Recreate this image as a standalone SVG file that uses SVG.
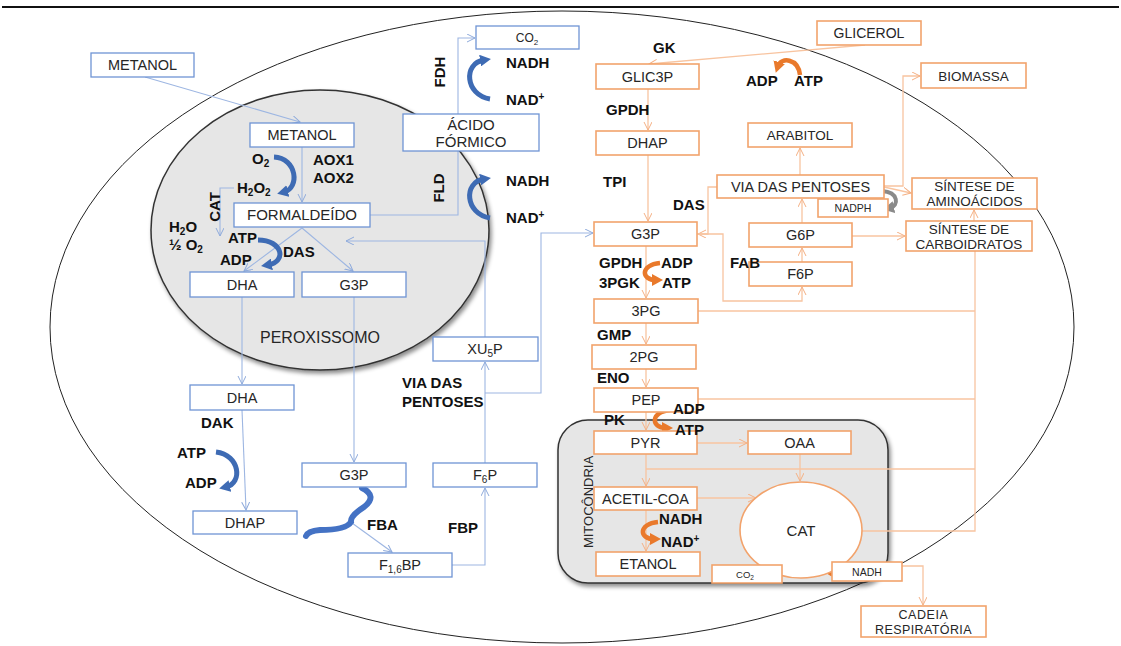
<svg xmlns="http://www.w3.org/2000/svg" width="1121" height="646" viewBox="0 0 1121 646">
<style>
.nb rect{fill:#fff;stroke:#6f94d4;stroke-width:1.3}
.no rect,.no ellipse{fill:#fff;stroke:#f2a36c;stroke-width:1.6}
.t{font-family:"Liberation Sans",Arial,sans-serif;font-size:14.5px;fill:#262626;text-anchor:middle}
.lb{font-family:"Liberation Sans",Arial,sans-serif;font-weight:bold;font-size:15px;fill:#111}
.eb{fill:none;stroke:#9db6e2;stroke-width:1.1}
.eo{fill:none;stroke:#f8c4a0;stroke-width:1.3}
.tkb{fill:none;stroke:#3e6bb4;stroke-width:5}
.tko{fill:none;stroke:#e9792b;stroke-width:4.5}
</style>
<defs>
<marker id="ab" markerUnits="userSpaceOnUse" markerWidth="10" markerHeight="10" refX="8" refY="4" orient="auto"><path d="M0,0 L8,4 L0,8" fill="none" stroke="#8eaadb" stroke-width="1"/></marker>
<marker id="ao" markerUnits="userSpaceOnUse" markerWidth="10" markerHeight="10" refX="8" refY="4" orient="auto"><path d="M0,0 L8,4 L0,8" fill="none" stroke="#f4b084" stroke-width="1"/></marker>
<marker id="tb" markerUnits="userSpaceOnUse" markerWidth="12" markerHeight="12" refX="4" refY="6" orient="auto"><path d="M0,0 L11,6 L0,12 z" fill="#3e6bb4"/></marker>
<marker id="to" markerUnits="userSpaceOnUse" markerWidth="12" markerHeight="12" refX="4" refY="6" orient="auto"><path d="M0,0 L11,6 L0,12 z" fill="#e9792b"/></marker>
<marker id="tg" markerUnits="userSpaceOnUse" markerWidth="12" markerHeight="12" refX="4" refY="6" orient="auto"><path d="M0,0 L11,6 L0,12 z" fill="#8a8a8a"/></marker>
<filter id="sh" x="-10%" y="-10%" width="125%" height="125%"><feDropShadow dx="2" dy="3" stdDeviation="2" flood-color="#000" flood-opacity="0.45"/></filter>
</defs>
<line x1="2" y1="7" x2="1119" y2="7" stroke="#111" stroke-width="2"/>
<ellipse id="cell" cx="562" cy="327" rx="512" ry="316" fill="none" stroke="#222" stroke-width="1"/>
<ellipse id="peroxissomo" cx="320" cy="230" rx="169" ry="140" fill="#e6e6e6" stroke="#333" stroke-width="1.5" filter="url(#sh)"/>
<rect id="mitocondria" x="558" y="420" width="330" height="163" rx="30" fill="#e6e6e6" stroke="#333" stroke-width="1.5" filter="url(#sh)"/>
<text class="t" x="320" y="343" style="font-size:16px">PEROXISSOMO</text>
<text class="t" transform="translate(593,502) rotate(-90)" style="font-size:13px">MITOCÔNDRIA</text>

<g id="connectors">
<path class="eb" d="M145,77 L300,122" marker-end="url(#ab)"/>
<path class="eb" d="M302,147 V202" marker-end="url(#ab)"/>
<path class="eb" d="M302,228 L244,271" marker-end="url(#ab)"/>
<path class="eb" d="M302,228 L353,271" marker-end="url(#ab)"/>
<path class="eb" d="M242,297 V384" marker-end="url(#ab)"/>
<path class="eb" d="M354,297 V462" marker-end="url(#ab)"/>
<path class="eb" d="M242,410 L246,510" marker-end="url(#ab)"/>
<path class="eb" d="M352,523 L392,552" marker-end="url(#ab)"/>
<path class="eb" d="M452,565 H485 V488" marker-end="url(#ab)"/>
<path class="eb" d="M485,463 V362" marker-end="url(#ab)"/>
<path class="eb" d="M485,337 V241 H346" marker-end="url(#ab)"/>
<path class="eb" d="M485,393 H541 V233 H593" marker-end="url(#ab)"/>
<path class="eb" d="M369,215 H458 V38 H475" marker-end="url(#ab)"/>
<path class="eb" d="M234,188 H220 V236" marker-end="url(#ab)"/>

<path class="eo" d="M865,45 L649,64" marker-end="url(#ao)"/>
<path class="eo" d="M648,89 V130" marker-end="url(#ao)"/>
<path class="eo" d="M648,155 V221" marker-end="url(#ao)"/>
<path class="eo" d="M646,246 V298" marker-end="url(#ao)"/>
<path class="eo" d="M646,323 V344" marker-end="url(#ao)"/>
<path class="eo" d="M646,369 V387" marker-end="url(#ao)"/>
<path class="eo" d="M646,412 V430" marker-end="url(#ao)"/>
<path class="eo" d="M646,454 V486" marker-end="url(#ao)"/>
<path class="eo" d="M646,510 V551" marker-end="url(#ao)"/>
<path class="eo" d="M697,443 H747" marker-end="url(#ao)"/>
<path class="eo" d="M800,454 V481" marker-end="url(#ao)"/>
<path class="eo" d="M697,498 H756" marker-end="url(#ao)"/>
<path class="eo" d="M646,469 H975"/>
<path class="eo" d="M975,251 V531 H862"/>
<path class="eo" d="M698,311 H975"/>
<path class="eo" d="M698,399 H975"/>
<path class="eo" d="M974,221 V210" marker-end="url(#ao)"/>
<path class="eo" d="M852,236 H905" marker-end="url(#ao)"/>
<path class="eo" d="M884,187 L911,193" marker-end="url(#ao)"/>
<path class="eo" d="M884,186 H903 V76 H920" marker-end="url(#ao)"/>
<path class="eo" d="M802,223 V199" marker-end="url(#ao)"/>
<path class="eo" d="M802,262 V248" marker-end="url(#ao)"/>
<path class="eo" d="M800,175 V148" marker-end="url(#ao)"/>
<path class="eo" d="M717,187 H708 V234 H698" marker-end="url(#ao)"/>
<path class="eo" d="M697,234 H723 V301 H802 V287" marker-end="url(#ao)"/>
<path class="eo" d="M902,566 H923 V605" marker-end="url(#ao)"/>

<path class="tkb" d="M490,99 C465,95 463,63 484,60" marker-end="url(#tb)"/>
<path class="tkb" d="M490,218 C465,214 463,182 484,179" marker-end="url(#tb)"/>
<path class="tkb" d="M274,157 C297,158 300,188 284,192" marker-end="url(#tb)"/>
<path class="tkb" d="M258,240 C283,240 287,262 268,265" marker-end="url(#tb)"/>
<path class="tkb" d="M216,452 C240,455 243,483 226,487" marker-end="url(#tb)"/>
<path d="M362,488 Q378,496 364,507 Q350,516 351,522 Q346,530 320,530 Q308,531 306,536" fill="none" stroke="#4472c4" stroke-width="6" stroke-linecap="round"/>

<path class="tko" d="M800,75 C798,58 781,57 778,66" marker-end="url(#to)"/>
<path class="tko" d="M660,263 C640,265 641,280 656,280" marker-end="url(#to)"/>
<path class="tko" d="M670,410 C650,412 651,428 666,428" marker-end="url(#to)"/>
<path class="tko" d="M658,522 C638,524 639,539 654,539" marker-end="url(#to)"/>
<path class="tko" d="M761,557 C785,560 784,573 770,574" marker-end="url(#to)"/>
<path class="tko" d="M842,557 C822,560 823,574 836,575" marker-end="url(#to)"/>
<path d="M882,191 C899,192 899,206 890,208" fill="none" stroke="#8a8a8a" stroke-width="4" marker-end="url(#tg)"/>
</g>

<g id="n-metanol-ext" class="nb"><rect x="91" y="53" width="103" height="24"/><text class="t" x="142.5" y="70">METANOL</text></g>
<g id="n-metanol" class="nb"><rect x="250" y="123" width="104" height="24"/><text class="t" x="302" y="140">METANOL</text></g>
<g id="n-formaldeido" class="nb"><rect x="234" y="203" width="136" height="24"/><text class="t" x="302" y="220" style="font-size:15px">FORMALDEÍDO</text></g>
<g id="n-dha-in" class="nb"><rect x="190" y="272" width="104" height="25"/><text class="t" x="242" y="290">DHA</text></g>
<g id="n-g3p-in" class="nb"><rect x="302" y="272" width="104" height="25"/><text class="t" x="354" y="290">G3P</text></g>
<g id="n-acido" class="nb"><rect x="403" y="114" width="136" height="37"/><text class="t" x="471" y="130" style="font-size:15px">ÁCIDO</text><text class="t" x="471" y="147" style="font-size:15px">FÓRMICO</text></g>
<g id="n-co2" class="nb"><rect x="476" y="26" width="103" height="23"/><text class="t" x="527" y="42" style="font-size:12px">CO<tspan dy="3" style="font-size:8px">2</tspan></text></g>
<g id="n-xu5p" class="nb"><rect x="433" y="337" width="105" height="24"/><text class="t" x="485" y="354">XU<tspan dy="3" style="font-size:10px">5</tspan><tspan dy="-3">P</tspan></text></g>
<g id="n-dha-out" class="nb"><rect x="190" y="385" width="104" height="25"/><text class="t" x="242" y="403">DHA</text></g>
<g id="n-dhap-out" class="nb"><rect x="193" y="511" width="104" height="23"/><text class="t" x="245" y="528">DHAP</text></g>
<g id="n-g3p-out" class="nb"><rect x="302" y="463" width="104" height="24"/><text class="t" x="354" y="480">G3P</text></g>
<g id="n-f6p-b" class="nb"><rect x="433" y="463" width="104" height="24"/><text class="t" x="485" y="480">F<tspan dy="3" style="font-size:10px">6</tspan><tspan dy="-3">P</tspan></text></g>
<g id="n-f16bp" class="nb"><rect x="348" y="553" width="104" height="24"/><text class="t" x="400" y="570">F<tspan dy="3" style="font-size:10px">1,6</tspan><tspan dy="-3">BP</tspan></text></g>

<g id="n-glicerol" class="no"><rect x="817" y="21" width="104" height="24"/><text class="t" x="869" y="38" style="font-size:14px">GLICEROL</text></g>
<g id="n-glic3p" class="no"><rect x="596" y="64" width="103" height="25"/><text class="t" x="647.5" y="82">GLIC3P</text></g>
<g id="n-dhap" class="no"><rect x="596" y="131" width="103" height="24"/><text class="t" x="647.5" y="148">DHAP</text></g>
<g id="n-g3p" class="no"><rect x="594" y="222" width="103" height="24"/><text class="t" x="645.5" y="239">G3P</text></g>
<g id="n-arabitol" class="no"><rect x="748" y="123" width="104" height="24"/><text class="t" x="800" y="140" style="font-size:13.5px">ARABITOL</text></g>
<g id="n-pentoses" class="no"><rect x="717" y="175" width="167" height="23"/><text class="t" x="800.5" y="192">VIA DAS PENTOSES</text></g>
<g id="n-nadph" class="no"><rect x="818" y="199" width="70" height="18"/><text class="t" x="853" y="212" style="font-size:10.5px">NADPH</text></g>
<g id="n-g6p" class="no"><rect x="749" y="223" width="103" height="24"/><text class="t" x="800.5" y="240">G6P</text></g>
<g id="n-f6p" class="no"><rect x="749" y="262" width="103" height="24"/><text class="t" x="800.5" y="279">F6P</text></g>
<g id="n-biomassa" class="no"><rect x="921" y="63" width="105" height="25"/><text class="t" x="973.5" y="81" style="font-size:13.5px">BIOMASSA</text></g>
<g id="n-aminoacidos" class="no"><rect x="912" y="178" width="125" height="31"/><text class="t" x="974.5" y="191" style="font-size:13.5px">SÍNTESE DE</text><text class="t" x="974.5" y="206" style="font-size:13.5px">AMINOÁCIDOS</text></g>
<g id="n-carboidratos" class="no"><rect x="906" y="221" width="126" height="30"/><text class="t" x="969" y="234" style="font-size:13.5px">SÍNTESE DE</text><text class="t" x="969" y="249" style="font-size:13.5px">CARBOIDRATOS</text></g>
<g id="n-3pg" class="no"><rect x="594" y="299" width="104" height="24"/><text class="t" x="646" y="316">3PG</text></g>
<g id="n-2pg" class="no"><rect x="592" y="345" width="104" height="24"/><text class="t" x="644" y="362">2PG</text></g>
<g id="n-pep" class="no"><rect x="594" y="388" width="104" height="24"/><text class="t" x="646" y="405">PEP</text></g>
<g id="n-pyr" class="no"><rect x="594" y="431" width="103" height="23"/><text class="t" x="645.5" y="448">PYR</text></g>
<g id="n-oaa" class="no"><rect x="748" y="431" width="103" height="23"/><text class="t" x="799.5" y="448">OAA</text></g>
<g id="n-acetil" class="no"><rect x="594" y="487" width="103" height="23"/><text class="t" x="645.5" y="504">ACETIL-COA</text></g>
<g id="n-etanol" class="no"><rect x="596" y="552" width="104" height="24"/><text class="t" x="648" y="569">ETANOL</text></g>
<g id="n-cat" class="no"><ellipse cx="801" cy="530" rx="61" ry="48"/><text class="t" x="801" y="536" style="font-size:15px">CAT</text></g>
<g id="n-co2-cat" class="no"><rect x="712" y="565" width="70" height="18"/><text class="t" x="745" y="578" style="font-size:9.5px">CO<tspan dy="2" style="font-size:6.5px">2</tspan></text></g>
<g id="n-nadh-cat" class="no"><rect x="832" y="562" width="70" height="19"/><text class="t" x="867" y="575.5" style="font-size:10.5px">NADH</text></g>
<g id="n-cadeia" class="no"><rect x="861" y="606" width="125" height="31"/><text class="t" x="923.5" y="619" style="font-size:12.5px;letter-spacing:0.6px">CADEIA</text><text class="t" x="923.5" y="634" style="font-size:12.5px;letter-spacing:0.4px">RESPIRATÓRIA</text></g>

<g id="labels">
<text class="lb" transform="translate(445,72) rotate(-90)" text-anchor="middle">FDH</text>
<text class="lb" transform="translate(444,188) rotate(-90)" text-anchor="middle">FLD</text>
<text class="lb" transform="translate(220,207) rotate(-90)" text-anchor="middle">CAT</text>
<text class="lb" x="506" y="68">NADH</text>
<text class="lb" x="506" y="105">NAD<tspan dy="-5" style="font-size:10px">+</tspan></text>
<text class="lb" x="506" y="186">NADH</text>
<text class="lb" x="506" y="223">NAD<tspan dy="-5" style="font-size:10px">+</tspan></text>
<text class="lb" x="252" y="164">O<tspan dy="3" style="font-size:10px">2</tspan></text>
<text class="lb" x="313" y="165">AOX1</text>
<text class="lb" x="313" y="183">AOX2</text>
<text class="lb" x="237" y="193">H<tspan dy="3" style="font-size:10px">2</tspan><tspan dy="-3">O</tspan><tspan dy="3" style="font-size:10px">2</tspan></text>
<text class="lb" x="169" y="232">H<tspan dy="3" style="font-size:10px">2</tspan><tspan dy="-3">O</tspan></text>
<text class="lb" x="169" y="250">½ O<tspan dy="3" style="font-size:10px">2</tspan></text>
<text class="lb" x="228" y="243">ATP</text>
<text class="lb" x="220" y="265">ADP</text>
<text class="lb" x="283" y="257">DAS</text>
<text class="lb" x="201" y="428">DAK</text>
<text class="lb" x="177" y="458">ATP</text>
<text class="lb" x="185" y="488">ADP</text>
<text class="lb" x="367" y="530">FBA</text>
<text class="lb" x="448" y="533">FBP</text>
<text class="lb" x="402" y="388">VIA DAS</text>
<text class="lb" x="402" y="407">PENTOSES</text>
<text class="lb" x="653" y="53">GK</text>
<text class="lb" x="746" y="86">ADP</text>
<text class="lb" x="794" y="86">ATP</text>
<text class="lb" x="606" y="115">GPDH</text>
<text class="lb" x="603" y="187">TPI</text>
<text class="lb" x="673" y="210">DAS</text>
<text class="lb" x="730" y="268">FAB</text>
<text class="lb" x="599" y="268">GPDH</text>
<text class="lb" x="599" y="288">3PGK</text>
<text class="lb" x="661" y="268">ADP</text>
<text class="lb" x="662" y="288">ATP</text>
<text class="lb" x="597" y="340">GMP</text>
<text class="lb" x="597" y="383">ENO</text>
<text class="lb" x="604" y="425">PK</text>
<text class="lb" x="673" y="414">ADP</text>
<text class="lb" x="675" y="435">ATP</text>
<text class="lb" x="659" y="524">NADH</text>
<text class="lb" x="661" y="547">NAD<tspan dy="-5" style="font-size:10px">+</tspan></text>
</g>
</svg>
